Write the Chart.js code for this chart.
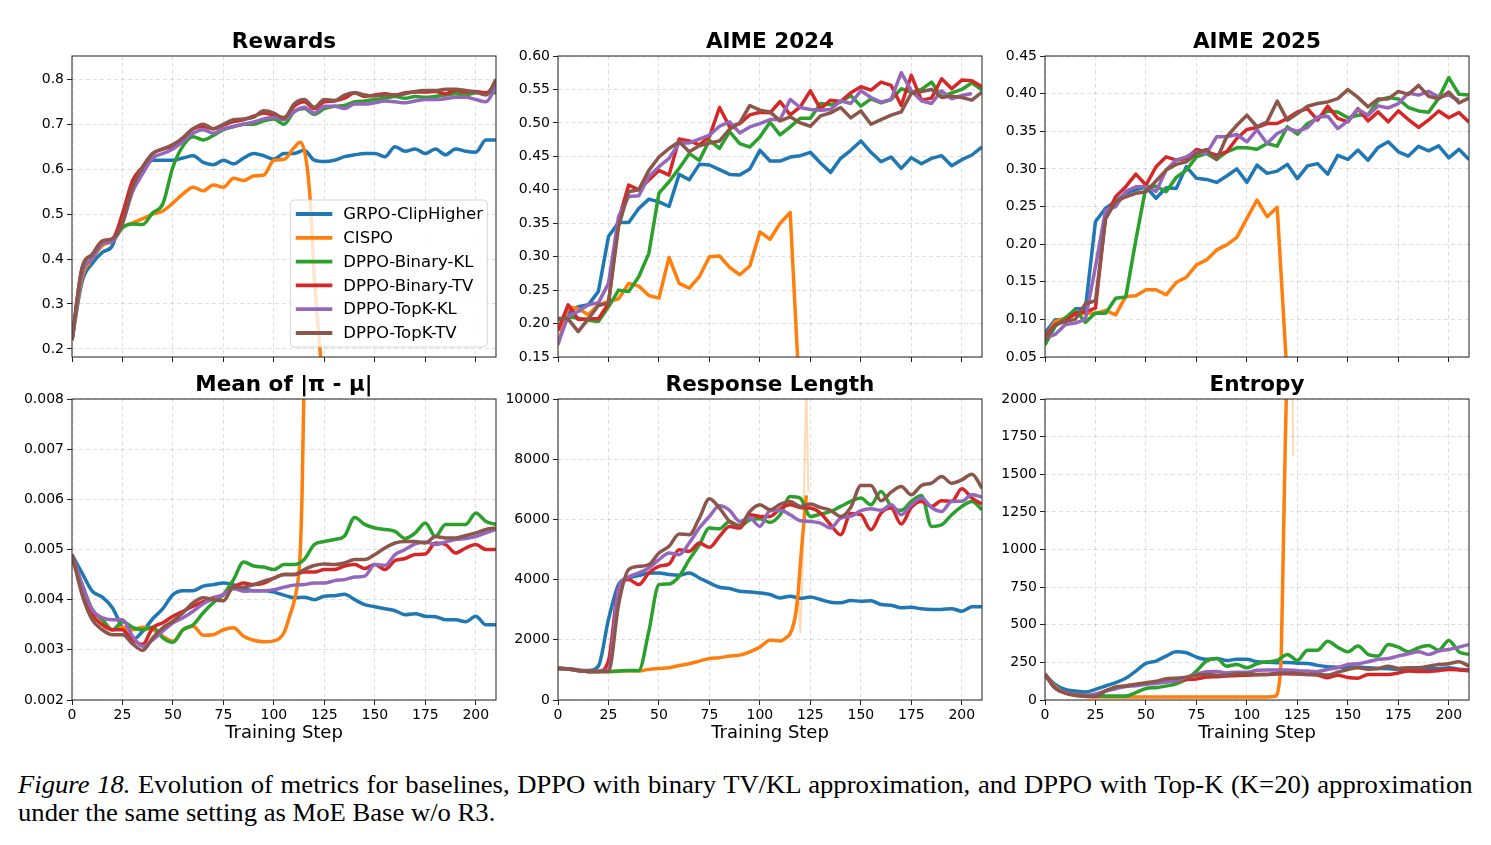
<!DOCTYPE html>
<html>
<head>
<meta charset="utf-8">
<script src="https://cdn.jsdelivr.net/npm/chart.js@4.4.0/dist/chart.umd.min.js"></script>
<style>
  body { margin: 0; background: #fff; width: 1491px; height: 845px; position: relative; overflow: hidden; }
  canvas { position: absolute; }
  .cap { position: absolute; left: 18px; font-family: 'Liberation Serif', 'Times New Roman', serif; font-size: 25.5px;
         line-height: 25.5px; color: #000; white-space: nowrap; transform: scaleX(1.045); transform-origin: 0 0; }
</style>
</head>
<body>
<canvas id="c0"></canvas>
<canvas id="c1"></canvas>
<canvas id="c2"></canvas>
<canvas id="c3"></canvas>
<canvas id="c4"></canvas>
<canvas id="c5"></canvas>
<div id="cap1" class="cap" style="top:772px"><i>Figure 18.</i> Evolution of metrics for baselines, DPPO with binary TV/KL approximation, and DPPO with Top-K (K=20) approximation</div>
<div id="cap2" class="cap" style="top:800.3px">under the same setting as MoE Base w/o R3.</div>
<script>
const seriesNames = ['GRPO-ClipHigher', 'CISPO', 'DPPO-Binary-KL', 'DPPO-Binary-TV', 'DPPO-TopK-KL', 'DPPO-TopK-TV'];
const colors = ['#1f77b4', '#ff7f0e', '#2ca02c', '#d62728', '#9467bd', '#8c564b'];
const fadedColors = ['rgba(31,119,180,0.3)', 'rgba(255,127,14,0.3)', 'rgba(44,160,44,0.3)', 'rgba(214,39,40,0.3)', 'rgba(148,103,189,0.3)', 'rgba(140,86,75,0.3)'];

// training steps (every 5)
const steps = [0,5,10,15,20,25,30,35,40,45,50,55,60,65,70,75,80,85,90,95,100,105,110,115,120,125,130,135,140,145,150,155,160,165,170,175,180,185,190,195,200,205,210];
const xTicks = [0,25,50,75,100,125,150,175,200];

// Rewards
const grpoRew = [0.22,0.35,0.39,0.415,0.43,0.50,0.57,0.60,0.62,0.62,0.62,0.625,0.63,0.615,0.61,0.62,0.612,0.625,0.635,0.63,0.622,0.635,0.635,0.642,0.62,0.617,0.62,0.628,0.632,0.635,0.635,0.628,0.65,0.64,0.645,0.635,0.645,0.632,0.645,0.64,0.638,0.665,0.665];
const cispoRewSteps = [0,5,10,15,20,25,30,35,40,45,50,55,60,65,70,75,80,85,90,95,100,105,110,113,116,118,120,123,125];
const cispoRew = [0.22,0.36,0.40,0.43,0.44,0.47,0.48,0.49,0.50,0.507,0.525,0.545,0.56,0.552,0.565,0.56,0.58,0.575,0.585,0.587,0.62,0.622,0.648,0.66,0.62,0.53,0.36,0.19,0.10];
const binKlRew = [0.22,0.37,0.40,0.435,0.44,0.47,0.478,0.477,0.503,0.523,0.605,0.652,0.672,0.665,0.675,0.688,0.695,0.70,0.70,0.708,0.712,0.70,0.728,0.735,0.722,0.735,0.74,0.742,0.75,0.752,0.755,0.758,0.762,0.758,0.762,0.76,0.762,0.765,0.768,0.765,0.77,0.77,0.77];
const binTvRew = [0.22,0.38,0.41,0.44,0.445,0.50,0.575,0.605,0.635,0.645,0.652,0.67,0.69,0.695,0.69,0.698,0.706,0.71,0.718,0.725,0.72,0.715,0.74,0.75,0.735,0.75,0.752,0.758,0.77,0.762,0.765,0.768,0.765,0.77,0.772,0.772,0.773,0.768,0.775,0.772,0.773,0.77,0.79];
const topKlRew = [0.22,0.37,0.40,0.435,0.44,0.48,0.55,0.59,0.625,0.635,0.645,0.662,0.68,0.688,0.68,0.69,0.695,0.70,0.705,0.712,0.715,0.71,0.728,0.738,0.725,0.74,0.74,0.735,0.745,0.745,0.748,0.752,0.75,0.748,0.752,0.755,0.755,0.757,0.76,0.76,0.755,0.75,0.785];
const topTvRew = [0.22,0.38,0.41,0.44,0.445,0.48,0.56,0.605,0.635,0.645,0.655,0.67,0.69,0.70,0.69,0.70,0.71,0.712,0.716,0.73,0.725,0.713,0.745,0.755,0.738,0.755,0.753,0.765,0.77,0.765,0.763,0.765,0.765,0.768,0.773,0.775,0.775,0.778,0.778,0.775,0.772,0.765,0.80];
const rewTicks = [0.2,0.3,0.4,0.5,0.6,0.7,0.8];
const rewLabels = ['0.2','0.3','0.4','0.5','0.6','0.7','0.8'];

// AIME 2024
const grpo24 = [0.19,0.216,0.225,0.228,0.248,0.33,0.351,0.351,0.372,0.386,0.382,0.375,0.423,0.415,0.438,0.437,0.43,0.423,0.422,0.431,0.459,0.443,0.443,0.449,0.451,0.456,0.44,0.426,0.447,0.459,0.473,0.456,0.442,0.449,0.432,0.448,0.439,0.447,0.451,0.436,0.445,0.452,0.464];
const cispo24 = [0.168,0.225,0.222,0.213,0.228,0.233,0.237,0.26,0.256,0.242,0.238,0.299,0.26,0.253,0.27,0.30,0.301,0.284,0.273,0.286,0.337,0.326,0.35,0.366,0.07];
const binKl24 = [0.205,0.21,0.208,0.205,0.203,0.225,0.25,0.248,0.27,0.305,0.395,0.412,0.432,0.454,0.444,0.474,0.462,0.487,0.469,0.464,0.479,0.501,0.482,0.494,0.507,0.507,0.529,0.527,0.531,0.541,0.525,0.536,0.53,0.535,0.551,0.546,0.55,0.561,0.539,0.545,0.55,0.56,0.549];
const binTv24 = [0.19,0.228,0.206,0.207,0.207,0.23,0.355,0.407,0.40,0.4145,0.429,0.422,0.476,0.473,0.467,0.479,0.523,0.494,0.499,0.512,0.516,0.515,0.532,0.512,0.524,0.548,0.521,0.534,0.532,0.545,0.554,0.549,0.561,0.556,0.526,0.571,0.534,0.537,0.566,0.551,0.564,0.563,0.554];
const topKl24 = [0.17,0.211,0.218,0.228,0.231,0.26,0.36,0.39,0.391,0.42,0.4345,0.447,0.47,0.47,0.4757,0.4816,0.495,0.5015,0.485,0.494,0.499,0.505,0.505,0.535,0.523,0.52,0.519,0.52,0.533,0.529,0.548,0.538,0.531,0.535,0.575,0.548,0.533,0.529,0.548,0.536,0.541,0.544];
const topTv24 = [0.208,0.207,0.188,0.207,0.227,0.2306,0.345,0.397,0.40,0.429,0.449,0.4617,0.4717,0.457,0.4657,0.47,0.473,0.4906,0.50,0.526,0.519,0.5165,0.503,0.509,0.50,0.495,0.5105,0.515,0.523,0.5075,0.518,0.498,0.505,0.5115,0.5165,0.544,0.547,0.55,0.538,0.54,0.538,0.534,0.546];
const a24Ticks = [0.15,0.20,0.25,0.30,0.35,0.40,0.45,0.50,0.55,0.60];
const a24Labels = ['0.15','0.20','0.25','0.30','0.35','0.40','0.45','0.50','0.55','0.60'];

// AIME 2025
const grpo25 = [0.082,0.0995,0.10,0.114,0.114,0.23,0.2476,0.2564,0.268,0.272,0.276,0.261,0.275,0.274,0.303,0.2874,0.286,0.282,0.2905,0.30,0.282,0.305,0.294,0.297,0.306,0.287,0.304,0.307,0.293,0.318,0.3125,0.325,0.3116,0.3285,0.336,0.3227,0.317,0.33,0.324,0.3306,0.3147,0.326,0.3125];
const cispo25 = [0.075,0.0973,0.1017,0.106,0.108,0.108,0.112,0.106,0.1305,0.1313,0.1393,0.1393,0.1327,0.149,0.156,0.1724,0.179,0.1923,0.199,0.209,0.2343,0.2586,0.2365,0.249,0.02];
const binKl25 = [0.066,0.0907,0.102,0.1128,0.096,0.1084,0.108,0.128,0.1296,0.2056,0.2763,0.277,0.2697,0.2887,0.2984,0.316,0.3205,0.3125,0.3227,0.328,0.328,0.3262,0.3338,0.3302,0.3559,0.3461,0.3603,0.367,0.377,0.3757,0.3678,0.3713,0.372,0.391,0.3948,0.393,0.3815,0.377,0.3753,0.394,0.4213,0.3992,0.398];
const binTv25 = [0.077,0.093,0.098,0.108,0.11,0.115,0.237,0.263,0.2763,0.293,0.2785,0.3028,0.316,0.3117,0.3139,0.3258,0.3227,0.3183,0.3227,0.3404,0.3523,0.355,0.3603,0.3603,0.367,0.3757,0.38,0.3647,0.3833,0.367,0.3625,0.38,0.3638,0.3757,0.3625,0.377,0.3656,0.355,0.365,0.377,0.368,0.375,0.362];
const topKl25 = [0.075,0.08,0.093,0.095,0.10,0.17,0.245,0.25,0.27,0.2763,0.2763,0.27,0.2984,0.3117,0.316,0.3227,0.3205,0.3426,0.3426,0.3457,0.336,0.352,0.3338,0.347,0.3536,0.35,0.355,0.369,0.37,0.3536,0.3634,0.379,0.3713,0.3837,0.381,0.3868,0.4009,0.398,0.403,0.3956,0.398,0.391];
const topTv25 = [0.072,0.093,0.097,0.10,0.1207,0.1247,0.2334,0.2564,0.263,0.2675,0.2697,0.2838,0.2984,0.306,0.3094,0.3205,0.3258,0.3125,0.3426,0.358,0.3713,0.356,0.3625,0.39,0.3647,0.3735,0.3833,0.3868,0.389,0.3934,0.4053,0.395,0.3824,0.393,0.393,0.403,0.399,0.411,0.3965,0.393,0.4022,0.3877,0.394];
const a25Ticks = [0.05,0.10,0.15,0.20,0.25,0.30,0.35,0.40,0.45];
const a25Labels = ['0.05','0.10','0.15','0.20','0.25','0.30','0.35','0.40','0.45'];

// Mean of |pi - mu|
const grpoMean = [0.0049,0.00453,0.00417,0.00405,0.00384,0.00344,0.0032,0.00337,0.00362,0.00382,0.0041,0.00418,0.00418,0.00427,0.0043,0.00433,0.0043,0.00422,0.00418,0.00418,0.00415,0.00409,0.00404,0.00405,0.004,0.00407,0.00408,0.00411,0.004,0.0039,0.00386,0.00382,0.00378,0.0037,0.00372,0.00367,0.00366,0.0036,0.0036,0.00356,0.00367,0.0035,0.0035];
const cispoMeanSteps = [0,5,10,15,20,25,30,35,40,45,50,55,60,65,70,75,80,85,90,95,100,105,108,110,112,113,114,115,116];
const cispoMean = [0.0049,0.0043,0.0038,0.0036,0.0034,0.00345,0.0034,0.00345,0.0034,0.00327,0.00317,0.0034,0.00347,0.00329,0.0033,0.0034,0.00344,0.00327,0.00319,0.00316,0.00318,0.00334,0.0037,0.00396,0.0044,0.0049,0.0062,0.0085,0.0115];
const binKlMean = [0.0048,0.0043,0.0038,0.0036,0.0034,0.00356,0.00345,0.0034,0.00345,0.00324,0.00315,0.0034,0.0035,0.00374,0.00394,0.0041,0.0044,0.00475,0.00467,0.00465,0.0046,0.0047,0.0047,0.0048,0.0051,0.00516,0.0052,0.00527,0.00564,0.0055,0.00543,0.0054,0.00536,0.00522,0.00533,0.00553,0.00526,0.0055,0.0055,0.0055,0.00573,0.00556,0.0055];
const binTvMean = [0.0049,0.0042,0.0037,0.0035,0.0034,0.0034,0.0032,0.00311,0.00344,0.00354,0.00367,0.00377,0.00387,0.00396,0.00404,0.0041,0.00425,0.00433,0.0043,0.00433,0.00443,0.0045,0.0045,0.00455,0.00455,0.0046,0.0046,0.00467,0.0047,0.00462,0.0047,0.0046,0.00478,0.00482,0.0049,0.00491,0.00513,0.0051,0.00493,0.00503,0.0051,0.005,0.005];
const topKlMean = [0.0049,0.0043,0.0038,0.00364,0.0036,0.0036,0.00327,0.00307,0.0032,0.00337,0.00354,0.00364,0.00377,0.00392,0.00402,0.0041,0.00422,0.00417,0.00418,0.00418,0.0042,0.00425,0.00429,0.0043,0.00433,0.00433,0.00438,0.0044,0.00445,0.00447,0.0047,0.00468,0.0049,0.005,0.00511,0.00515,0.0051,0.00515,0.0052,0.00522,0.00526,0.00533,0.0054];
const topTvMean = [0.0049,0.0041,0.0036,0.0034,0.0033,0.0033,0.00312,0.00299,0.00324,0.00344,0.00357,0.00374,0.00394,0.00404,0.004,0.00398,0.00425,0.00425,0.0043,0.00437,0.00443,0.0045,0.0045,0.0046,0.00468,0.00471,0.0047,0.00473,0.0048,0.0048,0.0049,0.00503,0.00513,0.00516,0.00516,0.00513,0.00526,0.00523,0.00523,0.00528,0.00533,0.0054,0.00543];
const meanTicks = [0.002,0.003,0.004,0.005,0.006,0.007,0.008];
const meanLabels = ['0.002','0.003','0.004','0.005','0.006','0.007','0.008'];

// Response Length
const grpoLen = [1050,1040,1000,980,1127,2674,3834,4055,4133,4221,4221,4166,4144,4221,4055,3890,3746,3702,3613,3591,3558,3503,3392,3448,3380,3420,3337,3249,3227,3304,3282,3300,3171,3149,3061,3083,3028,3006,3010,3030,2950,3094,3100];
const cispoLenSteps = [0,5,10,15,20,25,30,35,40,45,50,55,60,65,70,75,80,85,90,95,100,105,110,113,115,117,118,119,120,121,122,123];
const cispoLen = [1050,1030,980,950,950,950,960,970,961,1017,1050,1072,1149,1204,1293,1381,1403,1459,1492,1602,1757,1989,1960,2070,2200,2600,3000,3600,4500,5300,6050,6800];
const cispoLenRawSteps = [113,115,117,118,119,120,121,122,123,124];
const cispoLenRaw = [2100,2250,2700,3200,3600,2230,4000,7500,10500,6900];
const binKlLen = [1050,1030,980,950,950,950,961,980,980,2287,3834,3856,4111,4663,5160,5713,5690,5934,5768,5989,6022,5900,6155,6763,6707,6100,6177,6265,6431,6597,6707,6486,6928,6431,6300,6597,6796,5768,5823,6155,6431,6597,6321];
const binTvLen = [1050,1030,980,950,950,1300,3724,4000,3834,4221,4442,4519,4995,4939,5216,5072,5437,5768,5713,6155,6100,6100,6354,6486,6398,6376,6210,5823,5492,6200,6155,5658,6210,6376,5845,6400,6597,6431,6619,6600,7017,6707,6508];
const topKlLen = [1050,1030,980,950,950,1000,3700,4088,4221,4387,4663,4884,4829,5216,5713,6100,6450,6300,5934,6044,5768,6288,6300,6155,5956,5934,5878,5713,6044,6100,6288,6350,6300,6486,6155,6486,6707,6398,6265,6597,6600,6818,6741];
const topTvLen = [1050,1030,980,950,950,950,3171,4332,4442,4497,4884,5105,5514,5492,6044,6685,6376,5934,5801,6265,6486,6321,6500,6597,6431,6508,6398,6300,6100,6400,7127,7127,6619,6906,7094,6818,7127,7205,7426,7200,7315,7503,7039];
const lenTicks = [0,2000,4000,6000,8000,10000];
const lenLabels = ['0','2000','4000','6000','8000','10000'];

// Entropy
const grpoEnt = [170,104,71,60,53,71,93,115,144,192,243,259,292,320,314,285,270,275,263,270,270,254,250,248,250,245,243,230,221,218,215,219,214,210,208,205,205,203,210,208,214,205,200];
const cispoEntSteps = [0,5,10,15,20,25,30,35,40,45,50,55,60,65,70,75,80,85,90,95,100,105,110,114,115,116,117,118,119,120];
const cispoEnt = [170,90,48,32,24,20,20,20,20,20,20,20,20,20,20,20,20,20,20,20,20,20,20,25,40,110,300,990,1700,2300];
const cispoEntRawSteps = [114,115,116,117,118,119,120,121,122,123];
const cispoEntRaw = [22,35,90,280,850,1600,2400,2700,2500,1620];
const binKlEnt = [170,80,50,40,30,26,26,26,26,49,77,82,93,108,137,192,259,276,225,236,214,241,254,263,303,263,331,331,391,351,320,358,303,292,369,351,320,347,362,331,396,320,303];
const binTvEnt = [170,80,50,35,30,30,60,82,93,100,108,115,122,128,137,140,152,155,159,163,165,168,170,173,175,172,170,166,148,165,150,145,170,170,170,180,192,190,190,195,203,200,195];
const topKlEnt = [170,80,50,35,30,40,60,75,90,95,105,110,120,130,150,170,188,190,180,185,185,197,200,199,200,195,192,190,203,214,236,241,254,270,276,292,307,320,303,325,336,351,369];
const topTvEnt = [170,80,45,30,25,25,60,86,93,105,115,125,141,145,152,165,170,165,165,175,175,170,170,177,180,175,170,170,166,185,203,214,205,210,225,210,215,215,225,236,241,254,225];
const entTicks = [0,250,500,750,1000,1250,1500,1750,2000];
const entLabels = ['0','250','500','750','1000','1250','1500','1750','2000'];

// layout of the 2x3 grid
const Y_W = 70, PLOT_W = 424, PLOT_H = 301, TITLE_H = 44, PAD_R = 20, PAD_B = 2;
const colLeft = [72, 558, 1045];
const rowTop = [56, 399];

const panels = [
  {id: 'c0', title: 'Rewards', col: 0, row: 0, yMin: 0.182, yMax: 0.852, yTicks: rewTicks, yLabels: rewLabels, smooth: true, legend: true,
   series: [[steps, grpoRew], [cispoRewSteps, cispoRew], [steps, binKlRew], [steps, binTvRew], [steps, topKlRew], [steps, topTvRew]], raw: []},
  {id: 'c1', title: 'AIME 2024', col: 1, row: 0, yMin: 0.15, yMax: 0.60, yTicks: a24Ticks, yLabels: a24Labels, smooth: false,
   series: [[steps, grpo24], [steps, cispo24], [steps, binKl24], [steps, binTv24], [steps, topKl24], [steps, topTv24]], raw: []},
  {id: 'c2', title: 'AIME 2025', col: 2, row: 0, yMin: 0.05, yMax: 0.45, yTicks: a25Ticks, yLabels: a25Labels, smooth: false,
   series: [[steps, grpo25], [steps, cispo25], [steps, binKl25], [steps, binTv25], [steps, topKl25], [steps, topTv25]], raw: []},
  {id: 'c3', title: 'Mean of |π - μ|', col: 0, row: 1, yMin: 0.002, yMax: 0.008, yTicks: meanTicks, yLabels: meanLabels, smooth: true,
   series: [[steps, grpoMean], [cispoMeanSteps, cispoMean], [steps, binKlMean], [steps, binTvMean], [steps, topKlMean], [steps, topTvMean]], raw: []},
  {id: 'c4', title: 'Response Length', col: 1, row: 1, yMin: 0, yMax: 10000, yTicks: lenTicks, yLabels: lenLabels, smooth: true,
   series: [[steps, grpoLen], [cispoLenSteps, cispoLen], [steps, binKlLen], [steps, binTvLen], [steps, topKlLen], [steps, topTvLen]],
   raw: [[1, cispoLenRawSteps, cispoLenRaw]]},
  {id: 'c5', title: 'Entropy', col: 2, row: 1, yMin: 0, yMax: 2000, yTicks: entTicks, yLabels: entLabels, smooth: true,
   series: [[steps, grpoEnt], [cispoEntSteps, cispoEnt], [steps, binKlEnt], [steps, binTvEnt], [steps, topKlEnt], [steps, topTvEnt]],
   raw: [[1, cispoEntRawSteps, cispoEntRaw]]}
];

Chart.defaults.font.family = "'DejaVu Sans', sans-serif";
Chart.defaults.color = '#000';

// top and right spines like matplotlib
const framePlugin = {
  id: 'frame',
  afterDatasetsDraw(chart) {
    const a = chart.chartArea, ctx = chart.ctx;
    ctx.save();
    ctx.strokeStyle = '#333';
    ctx.lineWidth = 1.1;
    ctx.strokeRect(a.left, a.top, a.right - a.left, a.bottom - a.top);
    ctx.restore();
  }
};

// legend box inside the plot, lower right
const insideLegend = {
  id: 'insideLegend',
  afterDraw(chart, args, opts) {
    if (!opts.show) return;
    const a = chart.chartArea, ctx = chart.ctx;
    const w = 197, h = 147;
    const left = a.right - 205.7, top = a.bottom - 10 - h;
    ctx.save();
    ctx.beginPath();
    ctx.roundRect(left, top, w, h, 4);
    ctx.fillStyle = 'rgba(255,255,255,0.8)';
    ctx.fill();
    ctx.strokeStyle = 'rgba(204,204,204,0.8)';
    ctx.lineWidth = 1;
    ctx.stroke();
    ctx.font = "16.5px 'DejaVu Sans'";
    ctx.textBaseline = 'middle';
    seriesNames.forEach((name, i) => {
      const y = top + 14 + i * 23.8;
      ctx.strokeStyle = colors[i];
      ctx.lineWidth = 3.8;
      ctx.beginPath();
      ctx.moveTo(left + 5.5, y);
      ctx.lineTo(left + 42, y);
      ctx.stroke();
      ctx.fillStyle = '#000';
      ctx.fillText(name, left + 53, y + 1);
    });
    ctx.restore();
  }
};

function makeChart(p) {
  const bottom = p.row === 1;
  const xH = bottom ? 44 : 10;
  const W = Y_W + PLOT_W + PAD_R;
  const H = TITLE_H + PLOT_H + xH + PAD_B;
  const cv = document.getElementById(p.id);
  cv.width = W; cv.height = H;
  cv.style.width = W + 'px'; cv.style.height = H + 'px';
  cv.style.left = (colLeft[p.col] - Y_W) + 'px';
  cv.style.top = (rowTop[p.row] - TITLE_H) + 'px';

  const datasets = p.series.map(([xs, vals], i) => ({
    label: seriesNames[i],
    data: vals.map((v, j) => ({x: xs[j], y: v})),
    borderColor: colors[i],
    backgroundColor: colors[i],
    borderWidth: 3.5,
    pointRadius: 0,
    fill: false,
    tension: 0,
    cubicInterpolationMode: p.smooth ? 'monotone' : 'default',
    borderJoinStyle: 'round',
    order: 5 - i
  }));
  // faint unsmoothed traces
  p.raw.forEach(([ci, xs, vals]) => {
    datasets.push({
      label: seriesNames[ci] + ' (raw)',
      data: vals.map((v, j) => ({x: xs[j], y: v})),
      borderColor: fadedColors[ci],
      borderWidth: 2,
      pointRadius: 0,
      fill: false,
      tension: 0,
      order: 10
    });
  });

  const gridOpts = {color: 'rgba(0,0,0,0.16)', lineWidth: 0.8, tickLength: 5, tickColor: '#222', tickWidth: 1};

  new Chart(cv, {
    type: 'line',
    data: {datasets},
    plugins: [framePlugin, insideLegend],
    options: {
      responsive: false,
      devicePixelRatio: 1,
      animation: false,
      layout: {padding: {left: 0, right: PAD_R, top: 0, bottom: PAD_B}},
      plugins: {
        legend: {display: false},
        tooltip: {enabled: false},
        title: {display: true, text: p.title, fullSize: false, color: '#000',
                font: {size: 21.5, weight: 'bold'}, padding: {top: 17.6, bottom: 0.6}},
        insideLegend: {show: !!p.legend}
      },
      scales: {
        x: {
          type: 'linear', min: 0, max: 210,
          afterBuildTicks: s => { s.ticks = xTicks.map(v => ({value: v})); },
          afterFit: s => { s.height = xH; },
          ticks: {display: bottom, autoSkip: false, maxRotation: 0, padding: 2, font: {size: 14}, color: '#000',
                  callback: v => String(v)},
          grid: gridOpts,
          border: {display: false, dash: [4, 3]},
          title: {display: bottom, text: 'Training Step', color: '#000', font: {size: 18}, padding: {top: 0, bottom: 0}}
        },
        y: {
          type: 'linear', min: p.yMin, max: p.yMax,
          afterBuildTicks: s => { s.ticks = p.yTicks.map(v => ({value: v})); },
          afterFit: s => { s.width = Y_W; },
          ticks: {autoSkip: false, padding: 3, font: {size: 14}, color: '#000', callback: (v, i) => p.yLabels[i]},
          grid: gridOpts,
          border: {display: false, dash: [4, 3]}
        }
      }
    }
  });
}

panels.forEach(makeChart);

// justify the first caption line across the figure width
const cap1 = document.getElementById('cap1');
const target = 1455 / 1.045;
const natural = cap1.offsetWidth;
const nSpaces = (cap1.textContent.match(/ /g) || []).length;
cap1.style.wordSpacing = ((target - natural) / nSpaces) + 'px';
</script>
</body>
</html>
